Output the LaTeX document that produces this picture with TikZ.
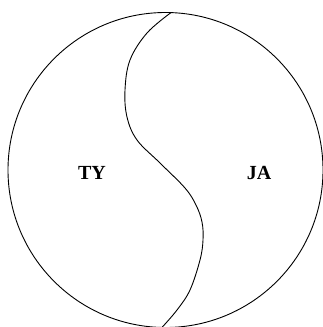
\documentclass[tikz,border=0pt]{standalone}
\usepackage{fontspec}
\newfontfamily\labelfont{Liberation Serif}
\begin{document}
\begin{tikzpicture}[x=1pt,y=-1pt,line width=0.9pt]
\useasboundingbox (0,0) rectangle (323,327);
\node[draw, circle, minimum size=315pt, inner sep=0pt] (disc) at (165.5,170) {};
\coordinate (top) at (171,12.6);
\coordinate (bottom) at (162,327.4);
\draw plot[smooth, tension=0.6] coordinates {(top) (147,33) (130,60) (125,90) (127,117) (137,140) (160,163) (185,188) (196,205) (202,222) (203,240) (200,260) (190,290) (177,310) (bottom)};
\node[font=\labelfont\bfseries\fontsize{20}{24}\selectfont] (ty) at (92,173) {TY};
\node[font=\labelfont\bfseries\fontsize{20}{24}\selectfont] (ja) at (259,173) {JA};
\end{tikzpicture}
\end{document}
